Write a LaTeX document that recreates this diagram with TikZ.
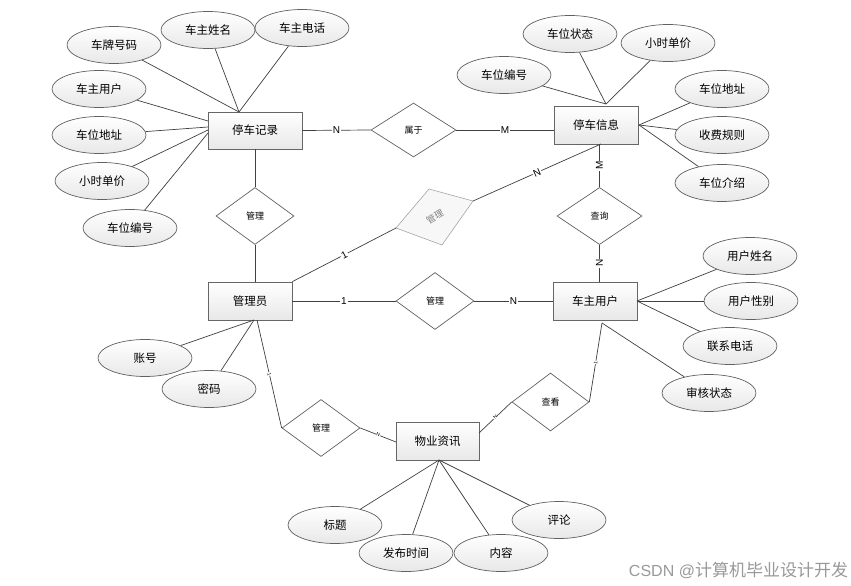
\documentclass[tikz,border=0pt]{standalone}
\usepackage{fontspec}
\setmainfont{Liberation Sans}
\newfontfamily\cjk{Noto Sans CJK SC}
\usetikzlibrary{shapes.geometric}
\begin{document}
\begin{tikzpicture}[x=1pt,y=-1pt,
  ent/.style={draw=black!60, line width=0.8pt, top color=white, bottom color=black!9,
    minimum width=84pt, minimum height=38pt, inner sep=0pt,
    font=\cjk\fontsize{11.5}{12}\selectfont},
  attr/.style={ellipse, draw=black!62, line width=0.7pt, top color=white, bottom color=black!9,
    minimum width=94pt, minimum height=37pt, inner sep=0pt,
    font=\cjk\fontsize{11.5}{12}\selectfont},
  rel/.style={diamond, draw=black!62, line width=0.7pt, fill=white,
    minimum width=78pt, minimum height=57pt, inner sep=0pt,
    font=\cjk\fontsize{9}{10}\selectfont},
  ln/.style={draw=black!75, line width=0.7pt},
  card/.style={fill=white, inner sep=1pt, font=\fontsize{10}{10}\selectfont},
  tinylab/.style={fill=white, inner sep=0.3pt, font=\fontsize{5}{5}\selectfont, sloped}
]
\fill[white] (0,0) rectangle (851,586);
\useasboundingbox (0,0) rectangle (851,586);

% entities
\node[ent, minimum width=94pt, minimum height=37pt] (jl) at (255,130.5) {停车记录};
\node[ent] (xx) at (596,125) {停车信息};
\node[ent] (gly) at (250,301) {管理员};
\node[ent] (yh) at (595,301) {车主用户};
\node[ent, minimum width=83pt] (wy) at (437.5,441) {物业资讯};

% relations
\node[rel, minimum width=85pt, minimum height=54pt] (sy) at (413.5,130) {属于};
\node[rel] (gl1) at (255,216) {管理};
\node[rel, minimum width=85pt] (cx) at (599.5,216) {查询};
\node[rel] (gl2) at (435,301) {管理};
\node[rel] (gl3) at (321,428) {管理};
\node[rel, minimum width=77pt, minimum height=58pt] (ck) at (550.5,402) {查看};

% rotated grey relation
\draw[draw=black!35, line width=0.6pt, fill=black!3]
  (396,228) coordinate (g4l) -- (429,189) -- (473,201) coordinate (g4r) -- (442,245) -- cycle;
\node[rotate=30, text=black!50, font=\cjk\fontsize{9}{10}\selectfont] (gl4) at (435,217) {管理};

% attributes of 停车记录
\node[attr] (a1) at (114,45) {车牌号码};
\node[attr] (a2) at (208,30) {车主姓名};
\node[attr] (a3) at (302,28) {车主电话};
\node[attr] (a4) at (99,89) {车主用户};
\node[attr] (a5) at (99,135) {车位地址};
\node[attr] (a6) at (102,181) {小时单价};
\node[attr] (a7) at (130,228) {车位编号};

% attributes of 停车信息
\node[attr] (b1) at (570,34) {车位状态};
\node[attr] (b2) at (668,43) {小时单价};
\node[attr] (b3) at (504,75) {车位编号};
\node[attr] (b4) at (722,89) {车位地址};
\node[attr] (b5) at (722,135) {收费规则};
\node[attr] (b6) at (722,183) {车位介绍};

% attributes of 车主用户
\node[attr] (c1) at (750,256) {用户姓名};
\node[attr] (c2) at (751,301) {用户性别};
\node[attr] (c3) at (730,346) {联系电话};
\node[attr] (c4) at (709,393) {审核状态};

% attributes of 管理员
\node[attr] (d1) at (145,358) {账号};
\node[attr] (d2) at (209,389) {密码};

% attributes of 物业资讯
\node[attr] (e1) at (335,525) {标题};
\node[attr] (e2) at (406,553) {发布时间};
\node[attr] (e3) at (501,553) {内容};
\node[attr] (e4) at (559,520) {评论};

% attachment points
\coordinate (jt) at (239,112);
\coordinate (jw1) at (208,121);
\coordinate (jw2) at (208,127);
\coordinate (jw3) at (208,130);
\coordinate (jw4) at (208,133);
\coordinate (xt) at (606,104);
\coordinate (xe) at (639,125);
\coordinate (xb) at (601,144);
\coordinate (ye) at (637,301);
\coordinate (yb) at (602,323);
\coordinate (wb) at (439,460);
\coordinate (gb1) at (254,320);
\coordinate (gb2) at (257,320);
\coordinate (we) at (396,442);
\coordinate (wr) at (479,433);

% attribute lines
\foreach \a in {a1,a2,a3} \draw[ln] (\a) -- (jt);
\draw[ln] (a4) -- (jw1);
\draw[ln] (a5) -- (jw2);
\draw[ln] (a6) -- (jw3);
\draw[ln] (a7) -- (jw4);
\foreach \a in {b1,b2,b3} \draw[ln] (\a) -- (xt);
\foreach \a in {b4,b5,b6} \draw[ln] (\a) -- (xe);
\foreach \a in {c1,c2,c3} \draw[ln] (\a) -- (ye);
\draw[ln] (c4) -- (yb);
\foreach \a in {d1,d2} \draw[ln] (\a) -- (gb1);
\foreach \a in {e1,e2,e3,e4} \draw[ln] (\a) -- (wb);

% relationship lines
\draw[ln] (jl.east) -- node[card] {N} (sy.west);
\draw[ln] (sy.east) -- node[card] {M} (sy.east -| xx.west);
\draw[ln] (cx.north |- xx.south) -- node[card, rotate=90] {M} (cx.north);
\draw[ln] (cx.south) -- node[card, rotate=90] {N} (cx.south |- yh.north);
\draw[ln] (jl.south) -- (gl1.north);
\draw[ln] (gl1.south) -- (gl1.south |- gly.north);
\draw[ln] (gly.east) -- node[card] {1} (gl2.west);
\draw[ln] (gl2.east) -- node[card] {N} (yh.west);
\draw[ln] (gly.north east) -- node[card, sloped] {1} (g4l);
\draw[ln] (g4r) -- node[card, sloped] {N} (xb);
\draw[ln] (gb2) -- node[tinylab] {1} (gl3.west);
\draw[ln] (gl3.east) -- node[tinylab] {N} (we);
\draw[ln] (ck.west) -- node[tinylab] {N} (wr);
\draw[ln] (yb) -- node[tinylab] {1} (ck.east);

% watermark
\node[text=black!40, font=\fontsize{16}{17}\selectfont, inner sep=0pt] (wm) at (738.5,570)
  {CSDN @{\cjk\fontsize{17}{18}\selectfont 计算机毕业设计开发}};
\end{tikzpicture}
\end{document}
